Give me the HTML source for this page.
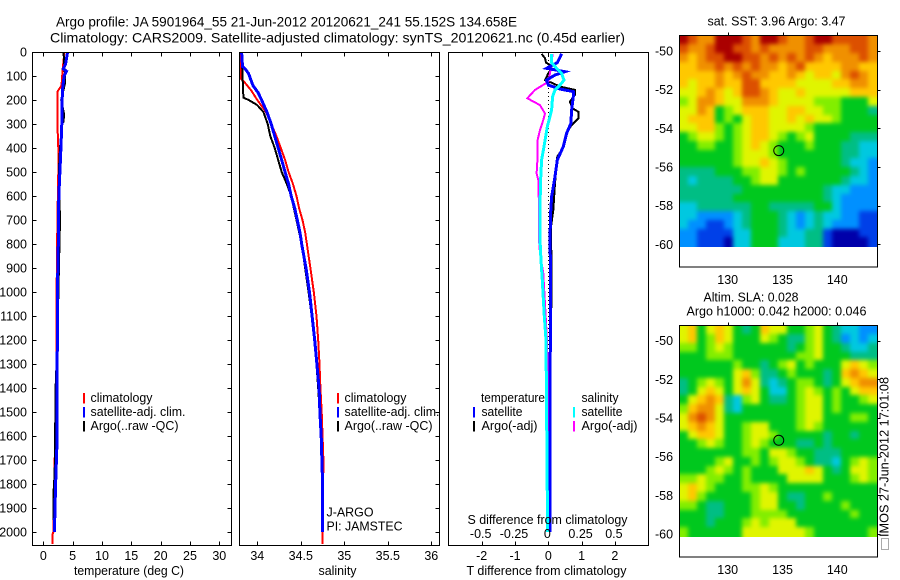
<!DOCTYPE html>
<html lang="en">
<head>
<meta charset="utf-8">
<title>Argo profile 5901964_55</title>
<style>
html,body{margin:0;padding:0;background:#fff;}
svg{display:block;}
text{font-family:"Liberation Sans",sans-serif;font-size:12.5px;fill:#000;}
</style>
</head>
<body>
<svg id="chart" xmlns="http://www.w3.org/2000/svg" width="900" height="580" viewBox="0 0 900 580">
<defs>
<filter id="map-smooth" filterUnits="userSpaceOnUse" x="640" y="0" width="260" height="580" color-interpolation-filters="sRGB">
<feGaussianBlur stdDeviation="2.2"/>
</filter>
<clipPath id="sst-clip"><rect x="680" y="36" width="198" height="211"/></clipPath>
<clipPath id="sla-clip"><rect x="680" y="326" width="198" height="211"/></clipPath>
</defs>
<rect x="0" y="0" width="900" height="580" fill="#fff"/>
<text x="56" y="26.5" style="font-size:14px" textLength="461" lengthAdjust="spacingAndGlyphs">Argo profile: JA 5901964_55 21-Jun-2012 20120621_241 55.152S 134.658E</text>
<text x="50" y="42.5" style="font-size:14px" textLength="575" lengthAdjust="spacingAndGlyphs">Climatology: CARS2009. Satellite-adjusted climatology: synTS_20120621.nc (0.45d earlier)</text>
</svg>
<script>
// ---- axis tick values ----
const depthTicks = [0,100,200,300,400,500,600,700,800,900,1000,1100,1200,1300,1400,1500,1600,1700,1800,1900,2000];
const tempTicks = [0,5,10,15,20,25,30];
const salTicks = [34,34.5,35,35.5,36];
const salTickLabels = ['34','34.5','35','35.5','36'];
const tDiffTicks = [-2,-1,0,1,2];
const sDiffTicks = [-0.5,-0.25,0,0.25,0.5];
const sDiffTickLabels = ['-0.5','-0.25','0','0.25','0.5'];
const lonTicks = [130,135,140];
const latTicks = [-50,-52,-54,-56,-58,-60];

// ---- temperature panel ----
const tempClimDepth = [0,70,140,165,300,400,500,700,1000,1400,1700,1950,2000,2010,2050];
const tempClimValue = [3.6,3.3,3.1,2.4,2.4,2.56,2.56,2.4,2.27,2.2,1.95,1.75,1.7,1.55,1.55];
const tempSatDepth = [0,50,70,80,100,150,200,300,400,460,600,800,1000,1200,1400,1650,1800,2000];
const tempSatValue = [4.15,3.8,3.4,3.95,3.55,3.3,3.2,3.15,3.0,2.9,2.65,2.55,2.4,2.4,2.3,2.3,2.1,1.9];
const tempArgoDepth = [0,100,130,200,260,290,300,400,500,700,960,1200,1400,1650,1750,1850,1950];
const tempArgoValue = [3.45,3.7,3.7,3.05,3.55,3.45,3.2,2.85,2.65,2.85,2.6,2.4,2.1,2.0,1.95,1.7,1.7];

// ---- salinity panel ----
const salClimDepth = [0,110,125,160,200,250,300,350,400,450,500,550,600,650,700,750,800,900,1000,1100,1200,1300,1400,1500,1700,2000,2050];
const salClimValue = [33.80,33.81,33.85,33.93,34.00,34.10,34.16,34.22,34.27,34.32,34.36,34.41,34.45,34.48,34.52,34.55,34.57,34.61,34.65,34.68,34.70,34.715,34.725,34.74,34.76,34.75,34.75];
const salSatDepth = [0,60,70,90,110,140,170,200,250,300,350,400,450,500,550,600,650,700,750,800,900,1000,1200,1400,1500,1600,1800,2000];
const salSatValue = [33.82,33.83,33.86,33.90,33.92,33.95,34.01,34.05,34.11,34.16,34.20,34.24,34.28,34.32,34.36,34.39,34.43,34.46,34.49,34.51,34.56,34.60,34.66,34.71,34.72,34.735,34.75,34.75];
const salArgoDepth = [0,190,200,220,250,300,350,400,450,500,550,600,700,800,900,1000,1200,1400,1600,1800,1950];
const salArgoValue = [33.82,33.84,33.90,33.995,34.07,34.12,34.15,34.20,34.24,34.28,34.34,34.39,34.45,34.51,34.55,34.59,34.66,34.70,34.735,34.75,34.75];

// ---- difference panel ----
const dTSatDepth = [8,44,68,82,96,117,138,154,165,186,242,297,339,394,450,519,603,672,783,922,1500,2000];
const dTSatValue = [0.40,0.27,-0.05,0.50,0.20,-0.05,0,0.35,0.75,0.75,0.70,0.68,0.55,0.45,0.27,0.20,0.10,0.07,0.05,0.07,0.05,0.05];
const dTArgoDepth = [8,26,44,54,68,89,117,128,144,158,179,207,235,249,276,304,325,367,408,436,547,658,728,950,1500,1950];
const dTArgoValue = [-0.20,-0.10,-0.07,0.05,0.10,0,-0.10,0.10,0.35,0.80,0.80,0.65,0.73,0.90,0.90,0.70,0.60,0.50,0.40,0.27,0.20,0.15,0.08,0.10,0.05,0.03];
const dSSatDepth = [8,44,68,89,117,138,158,186,242,311,394,450,533,644,783,867,950,1100,1200,1700,2000];
const dSSatValue = [0.025,0.025,0.0625,0.10,0.1175,0.0875,0.05,0.0325,0.025,-0.0075,-0.0325,-0.05,-0.0575,-0.0625,-0.0625,-0.055,-0.045,-0.03,-0.0175,-0.01,-0.005];
const dSArgoDepth = [8,44,89,124,158,193,221,256,283,325,367,436,506,533,644,783,839,922,1000,1200,1450,1800];
const dSArgoValue = [0.0325,0.025,0.0125,0,-0.10,-0.1575,-0.0625,-0.025,-0.0375,-0.0625,-0.08,-0.08,-0.0875,-0.075,-0.07,-0.07,-0.0625,-0.0375,-0.03,-0.01,0,0.005];
const zeroLineDepth = [0,2000];
const zeroLineValue = [0,0];

// ---- map grids: colour level per cell, north to south, west to east ----
const sstGrid = [
[11,10,9,9,11,11,11,10,9,11,11,10,9,9,10,11,11,10,10,10,10,9],
[10,9,9,10,11,11,10,10,9,10,9,9,9,9,10,10,9,9,9,10,10,9],
[9,8,9,10,10,11,11,10,10,9,10,9,10,9,10,9,8,9,9,9,10,9],
[8,8,9,9,10,9,10,9,10,9,9,8,9,10,8,8,8,8,9,9,8,8],
[8,8,8,8,9,8,9,10,9,9,8,8,9,8,7,8,8,7,9,10,9,8],
[8,7,8,8,9,8,8,10,10,8,8,8,8,7,7,7,7,8,8,9,9,8],
[7,7,8,9,8,7,8,10,10,9,8,7,7,8,7,7,7,7,7,8,8,8],
[6,7,9,9,8,7,7,9,9,9,8,7,7,7,7,6,6,6,5,5,5,7],
[7,7,9,8,5,6,7,8,8,8,7,7,8,8,7,7,6,6,5,5,5,4],
[7,8,8,8,5,6,5,7,8,8,7,7,8,7,8,7,7,6,5,5,5,5],
[7,7,8,8,6,5,6,7,8,8,7,7,7,7,6,5,5,5,5,5,5,5],
[5,6,7,7,6,5,6,7,8,8,7,6,5,6,7,5,5,5,5,4,4,4],
[5,5,6,6,5,5,6,7,8,7,6,5,5,5,6,5,5,5,4,4,3,3],
[5,5,5,5,5,5,6,7,7,7,6,5,5,5,5,5,5,5,4,4,3,3],
[5,5,5,5,5,5,6,7,7,8,7,6,5,5,5,5,5,5,4,3,3,2],
[4,4,4,4,5,5,5,6,6,7,7,6,5,6,5,5,5,5,5,4,3,2],
[4,3,4,4,4,4,5,5,6,7,7,5,5,5,5,5,5,5,4,3,3,2],
[4,4,4,4,4,4,4,5,5,5,5,5,5,5,5,5,4,3,3,2,2,2],
[4,4,4,4,4,4,5,5,5,5,5,5,5,5,5,5,4,3,2,2,2,2],
[3,3,4,4,4,4,4,4,5,5,4,4,4,4,4,5,5,3,2,2,2,2],
[3,3,2,2,2,2,3,4,5,5,5,4,3,2,3,4,3,3,2,2,1,1],
[3,2,2,1,1,2,3,4,5,5,5,4,3,2,3,4,3,2,2,2,1,1],
[2,2,1,1,1,1,3,3,5,5,5,4,3,3,4,4,1,0,0,0,1,1],
[2,2,1,1,1,0,3,3,5,5,5,3,3,3,4,4,1,0,0,0,0,1]
];
const slaGrid = [
[7,8,5,7,8,7,5,4,5,8,7,7,5,5,6,7,5,4,3,3,2,2],
[7,8,5,6,8,7,5,5,5,7,6,5,4,4,6,7,5,4,2,3,2,3],
[6,6,5,6,7,6,5,5,5,5,5,5,4,5,6,7,5,5,4,3,3,4],
[5,5,5,6,6,6,5,5,5,5,5,5,5,6,6,7,5,5,5,4,4,4],
[5,5,5,5,5,5,6,5,5,4,5,6,7,5,6,5,5,5,7,8,7,6],
[5,5,5,5,5,5,7,8,6,4,4,5,6,5,5,5,4,5,8,9,8,7],
[4,5,6,7,6,5,7,9,7,4,3,4,5,6,6,5,4,5,7,8,9,9],
[4,5,7,8,7,5,7,8,7,5,3,3,5,6,7,6,5,6,5,7,8,8],
[5,7,8,9,8,4,3,6,7,5,4,4,5,6,7,7,5,6,5,5,6,7],
[6,8,9,9,7,4,3,5,5,5,5,5,5,6,7,7,5,6,5,5,5,5],
[7,9,10,9,7,5,5,5,5,5,5,5,5,6,7,7,5,5,5,6,6,5],
[7,8,9,8,7,5,5,6,7,7,5,5,5,6,7,6,5,5,5,5,5,5],
[5,7,8,8,7,5,5,6,7,7,6,5,5,5,5,5,4,5,5,4,5,5],
[5,5,6,7,6,5,5,6,7,6,5,5,5,4,4,5,4,5,5,5,5,5],
[5,5,5,5,5,5,5,6,6,5,7,7,6,5,5,4,4,4,5,5,5,5],
[5,5,5,5,6,7,5,5,6,5,6,7,7,6,5,4,4,3,5,6,7,6],
[5,5,5,6,7,6,5,6,5,5,5,7,7,7,8,7,5,4,5,7,7,6],
[6,6,7,6,6,5,5,6,5,5,5,5,7,7,7,7,5,5,5,6,7,6],
[7,8,7,6,5,5,5,6,6,7,6,5,5,5,5,5,5,5,5,5,5,5],
[7,8,6,5,5,5,5,5,6,7,7,5,4,4,5,5,6,5,5,5,5,5],
[6,6,5,4,4,5,5,5,6,7,7,5,5,4,5,5,5,5,6,5,5,5],
[5,5,5,4,4,5,5,5,6,6,6,6,5,5,5,5,5,5,5,6,5,5],
[5,5,5,4,5,5,5,6,7,6,7,7,7,5,5,5,5,5,5,5,5,5],
[6,5,5,5,5,5,5,7,7,7,7,7,7,7,6,5,5,5,5,5,5,6]
];
const profileLon = [134.658];
const profileLat = [-55.152];

// colour ramp for the map levels
const mapColours = ['#0000aa','#0040e8','#0090ff','#00c8e0','#00be84','#00c81e','#82ee00','#e0f500','#ffc800','#f09000','#dc5000','#aa0000'];

const svg = document.getElementById('chart');
const NS = 'http://www.w3.org/2000/svg';

// ---- axis functions ----
const depthY = d => 52 + d * 0.2401;
const tempX = t => 43.3 + t * 5.867;
const salX = s => 257.3 + (s - 34) * 87;
const tDiffX = t => 548.3 + t * 33.3;
const sDiffX = s => 548.3 + s * 133.2;
const mapLonX = lon => 727.7 + (lon - 130) * 10.96;
const sstLatY = lat => 51 + (-50 - lat) * 19.33;
const slaLatY = lat => 340.7 + (-50 - lat) * 19.33;

function make(tag, attrs, parent) {
  const el = document.createElementNS(NS, tag);
  for (const k in attrs) el.setAttribute(k, attrs[k]);
  (parent || svg).appendChild(el);
  return el;
}
function group(name) {
  const g = make('g', {});
  
  
  return g;
}
function label(parent, name, str, x, y, anchor, width) {
  const t = make('text', {x: x, y: y, 'text-anchor': anchor || 'start'}, parent);
  if (width) { t.setAttribute('textLength', width); t.setAttribute('lengthAdjust', 'spacingAndGlyphs'); }
  t.textContent = str;
  
  
  return t;
}
function tick(parent, x1, y1, x2, y2) {
  const l = make('line', {x1: x1, y1: y1, x2: x2, y2: y2, stroke: '#000', 'stroke-width': 1, 'shape-rendering': 'crispEdges'}, parent);
  
  
}
function frame(parent, name, x, y, w, h) {
  const r = make('rect', {x: x, y: y, width: w, height: h, fill: 'none', stroke: '#000', 'stroke-width': 1, 'shape-rendering': 'crispEdges'}, parent);
  
  
}
function profile(parent, name, depths, values, xf, colour, width, dash) {
  const pts = depths.map((d, i) => xf(values[i]).toFixed(1) + ',' + depthY(d).toFixed(1)).join(' ');
  const p = make('polyline', {points: pts, fill: 'none', stroke: colour, 'stroke-width': width, 'shape-rendering': 'crispEdges'}, parent);
  if (dash) p.setAttribute('stroke-dasharray', dash);
  
  
}
function legendMark(parent, name, x, y, colour) {
  const r = make('rect', {x: x, y: y, width: 2, height: 10.5, fill: colour, 'shape-rendering': 'crispEdges'}, parent);
  
  
}

const TOP = 52.5, BOTTOM = 545.5;

// ---- temperature panel ----
const tempPanel = group('temperature-panel');
profile(tempPanel, 'temperature-climatology-line', tempClimDepth, tempClimValue, tempX, '#ff0000', 2);
profile(tempPanel, 'temperature-argo-line', tempArgoDepth, tempArgoValue, tempX, '#000000', 2);
profile(tempPanel, 'temperature-satellite-line', tempSatDepth, tempSatValue, tempX, '#0000ff', 3);
frame(tempPanel, 'temperature-plot-frame', 32.5, TOP, 199, BOTTOM - TOP);
depthTicks.forEach(d => {
  const y = Math.round(depthY(d)) + 0.5;
  tick(tempPanel, 32.5, y, 36.5, y);
  tick(tempPanel, 227.5, y, 231.5, y);
  label(tempPanel, 'depth-tick-label', String(d), 27, Math.round(depthY(d)) + 4.5, 'end');
});
tempTicks.forEach(t => {
  const x = Math.round(tempX(t)) + 0.5;
  tick(tempPanel, x, TOP, x, TOP + 4);
  tick(tempPanel, x, BOTTOM - 4, x, BOTTOM);
  label(tempPanel, 'temperature-tick-label', String(t), tempX(t), 560, 'middle');
});
label(tempPanel, 'temperature-axis-title', 'temperature (deg C)', 74, 575, 'start', 110);
legendMark(tempPanel, 'legend-climatology-mark', 83, 393, '#ff0000');
legendMark(tempPanel, 'legend-satellite-mark', 83, 407, '#0000ff');
legendMark(tempPanel, 'legend-argo-mark', 83, 421, '#000000');
label(tempPanel, 'legend-climatology-label', 'climatology', 90.5, 402, 'start', 62);
label(tempPanel, 'legend-satellite-label', 'satellite-adj. clim.', 90.5, 416, 'start', 95);
label(tempPanel, 'legend-argo-label', 'Argo(..raw -QC)', 90.5, 430, 'start', 88);

// ---- salinity panel ----
const salPanel = group('salinity-panel');
profile(salPanel, 'salinity-climatology-line', salClimDepth, salClimValue, salX, '#ff0000', 2);
profile(salPanel, 'salinity-argo-line', salArgoDepth, salArgoValue, salX, '#000000', 2);
profile(salPanel, 'salinity-satellite-line', salSatDepth, salSatValue, salX, '#0000ff', 3);
frame(salPanel, 'salinity-plot-frame', 239.5, TOP, 200, BOTTOM - TOP);
depthTicks.forEach(d => {
  const y = Math.round(depthY(d)) + 0.5;
  tick(salPanel, 435.5, y, 439.5, y);
});
salTicks.forEach((s, i) => {
  const x = Math.round(salX(s)) + 0.5;
  tick(salPanel, x, TOP, x, TOP + 4);
  tick(salPanel, x, BOTTOM - 4, x, BOTTOM);
  label(salPanel, 'salinity-tick-label', salTickLabels[i], salX(s), 560, 'middle');
});
label(salPanel, 'salinity-axis-title', 'salinity', 318.5, 575, 'start', 38);
legendMark(salPanel, 'legend-climatology-mark', 337, 393, '#ff0000');
legendMark(salPanel, 'legend-satellite-mark', 337, 407, '#0000ff');
legendMark(salPanel, 'legend-argo-mark', 337, 421, '#000000');
label(salPanel, 'legend-climatology-label', 'climatology', 344.5, 402, 'start', 62);
label(salPanel, 'legend-satellite-label', 'satellite-adj. clim.', 344.5, 416, 'start', 95);
label(salPanel, 'legend-argo-label', 'Argo(..raw -QC)', 344.5, 430, 'start', 88);
label(salPanel, 'float-program-label', 'J-ARGO', 326.5, 516.5, 'start', 47);
label(salPanel, 'principal-investigator-label', 'PI: JAMSTEC', 326.5, 530.5, 'start', 76);

// ---- difference panel ----
const diffPanel = group('difference-panel');
profile(diffPanel, 'zero-difference-line', zeroLineDepth, zeroLineValue, tDiffX, '#000000', 1, '1 3');
profile(diffPanel, 'temperature-argo-difference-line', dTArgoDepth, dTArgoValue, tDiffX, '#000000', 2);
profile(diffPanel, 'salinity-argo-difference-line', dSArgoDepth, dSArgoValue, sDiffX, '#ff00ff', 2);
profile(diffPanel, 'temperature-satellite-difference-line', dTSatDepth, dTSatValue, tDiffX, '#0000ff', 3);
profile(diffPanel, 'salinity-satellite-difference-line', dSSatDepth, dSSatValue, sDiffX, '#00ffff', 3);
frame(diffPanel, 'difference-plot-frame', 448.5, TOP, 200, BOTTOM - TOP);
tDiffTicks.forEach(t => {
  const x = Math.round(tDiffX(t)) + 0.5;
  tick(diffPanel, x, BOTTOM - 4, x, BOTTOM);
  label(diffPanel, 't-difference-tick-label', String(t), tDiffX(t), 560, 'middle');
});
sDiffTicks.forEach((s, i) => {
  const x = Math.round(sDiffX(s)) + 0.5;
  tick(diffPanel, x, TOP, x, TOP + 4);
  label(diffPanel, 's-difference-tick-label', sDiffTickLabels[i], sDiffX(s) - 1, 538, 'middle');
});
label(diffPanel, 's-difference-axis-title', 'S difference from climatology', 467.5, 524, 'start', 160);
label(diffPanel, 't-difference-axis-title', 'T difference from climatology', 466.5, 575, 'start', 160);
label(diffPanel, 'legend-temperature-heading', 'temperature', 481, 402, 'start', 64);
legendMark(diffPanel, 'legend-temperature-satellite-mark', 473, 407, '#0000ff');
legendMark(diffPanel, 'legend-temperature-argo-mark', 473, 421, '#000000');
label(diffPanel, 'legend-temperature-satellite-label', 'satellite', 481.5, 416, 'start', 41);
label(diffPanel, 'legend-temperature-argo-label', 'Argo(-adj)', 481.5, 430, 'start', 56);
label(diffPanel, 'legend-salinity-heading', 'salinity', 581.5, 402, 'start', 37);
legendMark(diffPanel, 'legend-salinity-satellite-mark', 573, 407, '#00ffff');
legendMark(diffPanel, 'legend-salinity-argo-mark', 573, 421, '#ff00ff');
label(diffPanel, 'legend-salinity-satellite-label', 'satellite', 581.5, 416, 'start', 41);
label(diffPanel, 'legend-salinity-argo-label', 'Argo(-adj)', 581.5, 430, 'start', 56);

// ---- maps ----
function drawMap(name, grid, latY, frameTop, frameBottom, clipId) {
  const g = group(name);
  const clip = make('g', {'clip-path': 'url(#' + clipId + ')'}, g);
  
  
  const cells = make('g', {filter: 'url(#map-smooth)'}, clip);
  
  
  const lonStart = 125.6, lonStep = 18.06 / grid[0].length;
  const latStart = -49.2, latStep = 10.9 / grid.length;
  const bleed = 12;
  grid.forEach((row, r) => {
    const y0 = Math.round(latY(latStart - r * latStep)) - (r === 0 ? bleed : 0);
    const y1 = Math.round(latY(latStart - (r + 1) * latStep)) + (r === grid.length - 1 ? bleed : 0);
    row.forEach((level, c) => {
      const x0 = Math.round(mapLonX(lonStart + c * lonStep)) - (c === 0 ? bleed : 0);
      const x1 = Math.round(mapLonX(lonStart + (c + 1) * lonStep)) + (c === row.length - 1 ? bleed : 0);
      const cell = make('rect', {x: x0, y: y0, width: x1 - x0, height: y1 - y0, fill: mapColours[level], 'shape-rendering': 'crispEdges'}, cells);
      
      
    });
  });
  frame(g, name + '-frame', 679.5, frameTop, 198, frameBottom - frameTop);
  lonTicks.forEach(lon => {
    const x = Math.round(mapLonX(lon)) + 0.5;
    tick(g, x, frameTop - 3, x, frameTop);
    label(g, 'longitude-tick-label', String(lon), mapLonX(lon), frameBottom + 17, 'middle');
  });
  latTicks.forEach(lat => {
    const y = Math.round(latY(lat)) + 0.5;
    tick(g, 877.5, y, 880.5, y);
    label(g, 'latitude-tick-label', String(lat), 655, latY(lat) + 4.5, 'start');
  });
  const marker = make('circle', {cx: mapLonX(profileLon[0]), cy: latY(profileLat[0]), r: 5, fill: 'none', stroke: '#000', 'stroke-width': 1}, g);
  
  
  return g;
}
const sstMap = drawMap('sst-map', sstGrid, sstLatY, 35.5, 267, 'sst-clip');
label(sstMap, 'sst-map-title', 'sat. SST: 3.96 Argo: 3.47', 707.5, 25.5, 'start', 138);
const slaMap = drawMap('sla-map', slaGrid, slaLatY, 325.5, 557, 'sla-clip');
label(slaMap, 'sla-map-title-line-1', 'Altim. SLA: 0.028', 703.5, 301.5, 'start', 95);
label(slaMap, 'sla-map-title-line-2', 'Argo h1000: 0.042 h2000: 0.046', 686.5, 315.5, 'start', 180);

// ---- timestamp ----
const stampGroup = group('timestamp-group');
const stampBox = make('rect', {x: 881.5, y: 538.5, width: 7, height: 11, fill: 'none', stroke: '#555', 'stroke-width': 1, 'stroke-dasharray': '1 1', 'shape-rendering': 'crispEdges'}, stampGroup);


const stamp = make('text', {transform: 'translate(888.5,537) rotate(-90)'}, stampGroup);
stamp.setAttribute('textLength', '160');
stamp.setAttribute('lengthAdjust', 'spacingAndGlyphs');
stamp.textContent = 'IMOS 27-Jun-2012 17:01:08';


</script>
</body>
</html>
